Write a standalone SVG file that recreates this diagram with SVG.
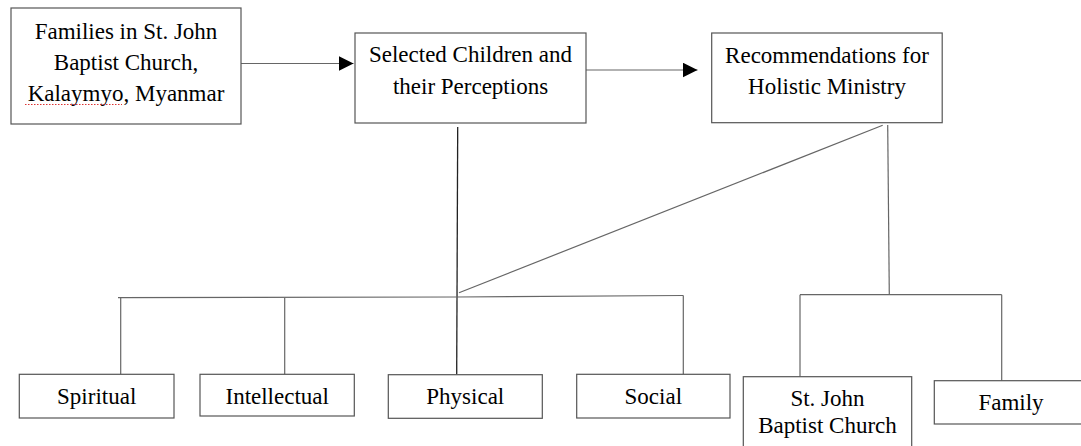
<svg xmlns="http://www.w3.org/2000/svg" width="1081" height="446" viewBox="0 0 1081 446">
<style>
.box{fill:#fff;stroke:#555;stroke-width:1.2}
.t{font-family:'Liberation Serif','Times New Roman',Tinos,'Noto Serif','DejaVu Serif',FreeSerif,'Nimbus Roman',serif;font-size:23px;fill:#000;text-anchor:middle}
.c{stroke:#666;stroke-width:1.2;fill:none}
.dk{stroke:#222;stroke-width:1.3;fill:none}
</style>
<defs>
<marker id="ah" viewBox="0 0 15 15" refX="15" refY="7.5" markerWidth="15" markerHeight="15" markerUnits="userSpaceOnUse" orient="auto">
<path d="M0,0 L15,7.5 L0,15 Z" fill="#000"/>
</marker>
</defs>
<rect width="1081" height="446" fill="#fff"/>
<g id="connectors">
<line class="c" x1="241" y1="63.5" x2="353.5" y2="63.5" stroke="#222" marker-end="url(#ah)"/>
<line class="c" x1="586" y1="70" x2="697.5" y2="70" stroke="#222" marker-end="url(#ah)"/>
<line class="dk" x1="457.7" y1="127" x2="456.7" y2="374.5"/>
<line class="c" x1="882.7" y1="125.3" x2="459" y2="292.7"/>
<polyline class="c" points="118,297.7 457,297 683.3,295.5"/>
<line class="c" x1="120.7" y1="298" x2="120.7" y2="374.3"/>
<line class="c" x1="284.7" y1="298" x2="284.7" y2="374.3"/>
<line class="c" x1="683.3" y1="295.5" x2="683.3" y2="374.3"/>
<line class="c" x1="887.7" y1="125" x2="889.3" y2="295"/>
<line class="c" x1="800" y1="294.7" x2="1001.7" y2="294.7"/>
<line class="c" x1="800" y1="294.7" x2="800" y2="376.7"/>
<line class="c" x1="1001.7" y1="294.7" x2="1001.7" y2="380.7"/>
</g>
<g id="families">
<rect class="box" x="11" y="8" width="230" height="116"/>
<text class="t" x="126" y="38.5">Families in St. John</text>
<text class="t" x="126" y="69.5">Baptist Church,</text>
<text class="t" x="126" y="101">Kalaymyo, Myanmar</text>
<line x1="25" y1="104.5" x2="122" y2="104.5" stroke="#d33" stroke-width="1" stroke-dasharray="1.5,1.5"/>
</g>
<g id="children">
<rect class="box" x="355" y="33" width="231" height="90"/>
<text class="t" x="470.5" y="62">Selected Children and</text>
<text class="t" x="470.5" y="93.5">their Perceptions</text>
</g>
<g id="recommendations">
<rect class="box" x="711.7" y="33" width="230.5" height="89.7"/>
<text class="t" x="827" y="63">Recommendations for</text>
<text class="t" x="827" y="94">Holistic Ministry</text>
</g>
<g id="spiritual">
<rect class="box" x="19.3" y="374.3" width="154.7" height="43.7"/>
<text class="t" x="96.7" y="404">Spiritual</text>
</g>
<g id="intellectual">
<rect class="box" x="200" y="374.3" width="154.3" height="41.7"/>
<text class="t" x="277.2" y="404">Intellectual</text>
</g>
<g id="physical">
<rect class="box" x="388.3" y="374.7" width="154" height="43.6"/>
<text class="t" x="465.3" y="404">Physical</text>
</g>
<g id="social">
<rect class="box" x="576.7" y="374.3" width="153.3" height="43.7"/>
<text class="t" x="653.3" y="404">Social</text>
</g>
<g id="church">
<rect class="box" x="743.3" y="376.7" width="168.4" height="80"/>
<text class="t" x="827.5" y="406">St. John</text>
<text class="t" x="827.5" y="433">Baptist Church</text>
</g>
<g id="family">
<rect class="box" x="934.3" y="380.7" width="155" height="43.3"/>
<text class="t" x="1011" y="409.5">Family</text>
</g>
</svg>
